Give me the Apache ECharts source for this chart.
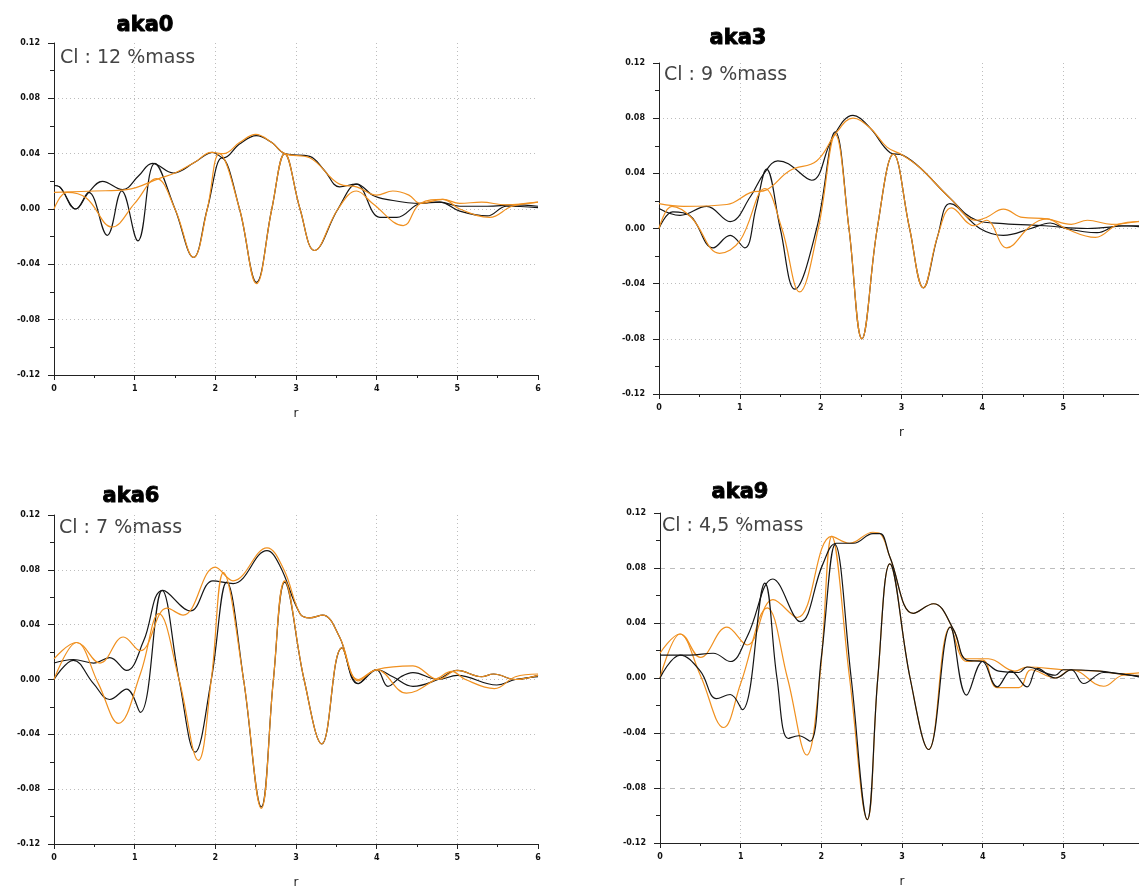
<!DOCTYPE html>
<html>
<head>
<meta charset="utf-8">
<script src="https://cdn.jsdelivr.net/npm/echarts@6/dist/echarts.min.js"></script>
<style>
html,body{margin:0;padding:0;background:#fff;overflow:hidden;}
#c{width:1139px;height:890px;}
</style>
</head>
<body>
<div id="c"></div>
<script>
// ---- panel labels ----
var panelTitles = ['aka0', 'aka3', 'aka6', 'aka9'];
var panelNotes = ['Cl : 12 %mass', 'Cl : 9 %mass', 'Cl : 7 %mass', 'Cl : 4,5 %mass'];
var xTicks = [0, 1, 2, 3, 4, 5, 6];
var yTicks = [-0.12, -0.08, -0.04, 0.00, 0.04, 0.08, 0.12];

// ---- aka0 ----
var a0_blackEnv = [[0,0.017],[0.07,0.016],[0.27,0.0],[0.43,0.012],[0.6,0.02],[0.85,0.014],[1.05,0.024],[1.22,0.033],[1.48,0.026],[1.75,0.034],[1.97,0.041],[2.1,0.037],[2.3,0.047],[2.51,0.053],[2.7,0.048],[2.86,0.04],[3.17,0.038],[3.35,0.028],[3.54,0.016],[3.75,0.018],[3.95,0.01],[4.12,0.007],[4.54,0.004],[4.78,0.005],[5.03,0.002],[5.37,0.002],[5.7,0.003],[6,0.002]];
var a0_blackOsc = [[0,0.017],[0.07,0.016],[0.27,0.0],[0.43,0.012],[0.66,-0.019],[0.84,0.013],[1.04,-0.023],[1.25,0.033],[1.5,0.0],[1.73,-0.035],[1.9,0.0],[2.08,0.037],[2.3,0.0],[2.51,-0.053],[2.7,0.0],[2.86,0.04],[3.05,0.0],[3.23,-0.03],[3.52,0.0],[3.75,0.018],[4.04,-0.006],[4.25,-0.006],[4.54,0.004],[4.78,0.005],[5.03,-0.0015],[5.37,-0.005],[5.61,0.002],[6,0.001]];
var a0_orangeEnv = [[0,0.012],[0.5,0.013],[0.9,0.014],[1.3,0.022],[1.5,0.026],[1.75,0.034],[1.95,0.041],[2.1,0.04],[2.3,0.048],[2.5,0.054],[2.7,0.048],[2.86,0.04],[3.17,0.037],[3.54,0.018],[3.75,0.016],[4.0,0.01],[4.2,0.013],[4.4,0.01],[4.54,0.004],[4.82,0.007],[5.03,0.004],[5.3,0.005],[5.6,0.003],[6,0.005]];
var a0_orangeOsc = [[0,0],[0.16,0.012],[0.4,0.008],[0.72,-0.013],[1.0,0.004],[1.27,0.022],[1.5,0.0],[1.73,-0.035],[1.9,0.0],[2.05,0.04],[2.3,0.0],[2.51,-0.054],[2.7,0.0],[2.86,0.04],[3.05,0.0],[3.23,-0.03],[3.52,0.0],[3.75,0.013],[3.95,0.004],[4.33,-0.012],[4.54,0.004],[4.82,0.007],[5.03,0.0],[5.4,-0.006],[5.68,0.002],[6,0.005]];

// ---- aka3 ----
var a3_blackEnv = [[0,0.0145],[0.26,0.0095],[0.59,0.016],[0.88,0.005],[1.13,0.023],[1.3,0.04],[1.47,0.049],[1.6,0.047],[1.89,0.035],[2.15,0.066],[2.4,0.082],[2.61,0.073],[2.86,0.055],[3.02,0.053],[3.23,0.044],[3.6,0.022],[3.93,0.006],[4.26,0.0036],[4.77,0.002],[5.3,0.0],[5.85,0.002],[6,0.002]];
var a3_blackOsc = [[0,0],[0.17,0.012],[0.38,0.0095],[0.67,-0.014],[0.88,-0.005],[1.06,-0.014],[1.2,0.015],[1.33,0.043],[1.5,0.0],[1.68,-0.044],[1.95,0.0],[2.18,0.070],[2.35,0.0],[2.51,-0.080],[2.7,0.0],[2.9,0.054],[3.1,0.0],[3.27,-0.043],[3.45,-0.005],[3.6,0.018],[3.97,0],[4.26,-0.005],[4.6,0],[4.84,0.004],[5.03,0],[5.42,-0.003],[5.68,0.002],[6,0.001]];
var a3_orangeEnv = [[0,0.018],[0.3,0.016],[0.84,0.0174],[1.13,0.026],[1.33,0.028],[1.62,0.042],[1.95,0.049],[2.2,0.07],[2.4,0.080],[2.61,0.073],[2.82,0.059],[3.02,0.053],[3.23,0.044],[3.6,0.022],[3.93,0.006],[4.05,0.008],[4.26,0.014],[4.5,0.008],[4.8,0.007],[5.1,0.003],[5.3,0.006],[5.6,0.003],[6,0.006]];
var a3_orangeOsc = [[0,0],[0.16,0.016],[0.4,0.008],[0.75,-0.018],[1.0,-0.009],[1.31,0.029],[1.52,0.0],[1.74,-0.046],[1.97,0.0],[2.18,0.068],[2.35,0.0],[2.51,-0.080],[2.7,0.0],[2.9,0.054],[3.1,0.0],[3.27,-0.043],[3.45,-0.005],[3.62,0.015],[3.9,0.002],[4.05,0.006],[4.3,-0.014],[4.6,0.002],[4.8,0.007],[5.03,0],[5.4,-0.0065],[5.68,0.003],[6,0.005]];

// ---- aka6 ----
var a6_blackEnv = [[0,0.012],[0.24,0.0146],[0.49,0.012],[0.69,0.016],[0.9,0.0066],[1.11,0.028],[1.35,0.065],[1.69,0.050],[1.97,0.072],[2.22,0.07],[2.64,0.094],[2.8,0.083],[3.05,0.048],[3.17,0.045],[3.33,0.047],[3.54,0.031],[3.77,-0.003],[4.0,0.0073],[4.2,0.002],[4.45,-0.005],[4.76,0.0],[5.0,0.0066],[5.3,0.002],[5.45,0.004],[5.72,0.0],[6,0.003]];
var a6_blackOsc = [[0,0],[0.24,0.014],[0.49,-0.003],[0.69,-0.0146],[0.9,-0.007],[1.07,-0.024],[1.34,0.065],[1.55,0.0],[1.75,-0.053],[1.95,0.0],[2.14,0.071],[2.35,0.0],[2.57,-0.093],[2.72,0.0],[2.86,0.071],[3.1,0.0],[3.32,-0.047],[3.57,0.023],[3.77,-0.003],[4.0,0.007],[4.14,-0.005],[4.3,0.002],[4.45,0.005],[4.76,0.0],[5.0,0.003],[5.49,-0.004],[5.72,0.0],[6,0.002]];
var a6_orangeEnv = [[0,0.015],[0.28,0.027],[0.57,0.012],[0.86,0.031],[1.07,0.021],[1.4,0.052],[1.6,0.047],[2.0,0.082],[2.22,0.072],[2.64,0.096],[2.85,0.08],[3.05,0.048],[3.17,0.045],[3.33,0.047],[3.54,0.031],[3.77,0.0],[4.0,0.0073],[4.45,0.010],[4.76,0.0],[5.0,0.0066],[5.3,0.002],[5.45,0.004],[5.72,0.0],[6,0.003]];
var a6_orangeOsc = [[0,0],[0.28,0.027],[0.55,-0.003],[0.8,-0.032],[1.07,0.004],[1.3,0.048],[1.55,0.0],[1.79,-0.059],[1.95,0.0],[2.1,0.078],[2.35,0.0],[2.57,-0.094],[2.72,0.0],[2.86,0.072],[3.1,0.0],[3.32,-0.047],[3.57,0.023],[3.77,-0.001],[4.0,0.007],[4.37,-0.010],[4.76,0.001],[4.93,0.006],[5.1,0.0],[5.46,-0.0066],[5.72,0.002],[6,0.004]];

// ---- aka9 ----
var a9_blackEnv = [[0,0.0167],[0.37,0.0167],[0.66,0.018],[0.87,0.012],[1.08,0.030],[1.4,0.072],[1.74,0.041],[2.02,0.083],[2.19,0.098],[2.4,0.098],[2.64,0.105],[2.73,0.105],[2.85,0.088],[3.14,0.047],[3.39,0.054],[3.64,0.035],[3.8,0.013],[4.0,0.012],[4.2,0.005],[4.45,0.004],[4.55,0.008],[4.9,0.002],[5.0,0.006],[5.45,0.005],[5.7,0.003],[6,0.001]];
var a9_blackOsc = [[0,0],[0.25,0.0167],[0.5,0.005],[0.7,-0.015],[0.87,-0.012],[1.02,-0.023],[1.3,0.069],[1.45,0.0],[1.59,-0.044],[1.72,-0.042],[1.86,-0.046],[2.0,0.015],[2.17,0.097],[2.37,0.0],[2.57,-0.103],[2.7,0.0],[2.85,0.083],[3.1,0.0],[3.33,-0.052],[3.6,0.037],[3.8,-0.0125],[4.0,0.012],[4.18,-0.0065],[4.35,0.005],[4.55,-0.0065],[4.68,0.007],[4.9,0.0],[5.1,0.006],[5.25,-0.004],[5.5,0.004],[6,0.0]];
var a9_orangeEnv = [[0,0.018],[0.25,0.032],[0.5,0.015],[0.83,0.037],[1.08,0.024],[1.4,0.057],[1.7,0.044],[2.13,0.103],[2.35,0.098],[2.64,0.106],[2.73,0.105],[2.85,0.088],[3.14,0.047],[3.39,0.054],[3.64,0.035],[3.8,0.014],[4.07,0.014],[4.4,0.005],[4.55,0.008],[5.0,0.006],[5.45,0.005],[5.7,0.003],[6,0.004]];
var a9_orangeOsc = [[0,0],[0.25,0.032],[0.5,0.002],[0.79,-0.036],[1.0,-0.004],[1.33,0.051],[1.58,0.0],[1.82,-0.056],[1.98,0.0],[2.13,0.103],[2.35,0.0],[2.57,-0.103],[2.7,0.0],[2.85,0.083],[3.1,0.0],[3.33,-0.052],[3.6,0.037],[3.8,0.012],[4.0,0.013],[4.18,-0.007],[4.45,-0.007],[4.6,0.006],[4.9,0.0],[5.1,0.006],[5.5,-0.006],[5.75,0.002],[6,0.002]];

var panelCurves = [
  {black: [a0_blackEnv, a0_blackOsc], orange: [a0_orangeEnv, a0_orangeOsc], blackOnTop: false},
  {black: [a3_blackEnv, a3_blackOsc], orange: [a3_orangeEnv, a3_orangeOsc], blackOnTop: false},
  {black: [a6_blackEnv, a6_blackOsc], orange: [a6_orangeEnv, a6_orangeOsc], blackOnTop: false},
  {black: [a9_blackEnv, a9_blackOsc], orange: [a9_orangeEnv, a9_orangeOsc], blackOnTop: true}
];

// ---- layout (px) ----
var grids = [
  {left: 54,  top: 43,  width: 484, height: 332},
  {left: 659, top: 63,  width: 485, height: 331},
  {left: 54,  top: 515, width: 484, height: 329},
  {left: 660, top: 513, width: 484, height: 330}
];
var titlePos = [[145, 26], [738, 39], [131, 497], [740, 493]];
var notePos = [[60, 58], [664, 75], [59, 528], [662, 526]];
var hDash = [[1, 3], [1, 3], [1, 3], [5, 5]];

var BLACK = '#151515';
var ORANGE = '#f0901f';

var xAxes = [], yAxes = [], series = [], graphics = [];
grids.forEach(function (g, i) {
  xAxes.push({
    type: 'value', gridIndex: i, min: xTicks[0], max: xTicks[xTicks.length - 1], interval: 1,
    name: 'r', nameLocation: 'middle', nameGap: 33,
    nameTextStyle: {fontFamily: 'DejaVu Sans', fontSize: 12, color: '#222'},
    axisLine: {show: true, onZero: false, lineStyle: {color: '#222', width: 1}},
    axisTick: {show: true, inside: false, length: 5, lineStyle: {color: '#222'}},
    minorTick: {show: true, splitNumber: 2, length: 3, lineStyle: {color: '#222'}},
    axisLabel: {fontFamily: 'DejaVu Sans', fontWeight: 'bold', fontSize: 8, color: '#111', margin: 10},
    splitLine: {show: true, showMaxLine: false, lineStyle: {color: '#bdbdbd', type: [1, 3], width: 1}}
  });
  yAxes.push({
    type: 'value', gridIndex: i, min: yTicks[0], max: yTicks[yTicks.length - 1], interval: 0.04,
    axisLine: {show: true, onZero: false, lineStyle: {color: '#222', width: 1}},
    axisTick: {show: true, inside: false, length: 6, lineStyle: {color: '#222'}},
    minorTick: {show: true, splitNumber: 2, length: 4, lineStyle: {color: '#222'}},
    axisLabel: {fontFamily: 'DejaVu Sans', fontWeight: 'bold', fontSize: 8, color: '#111', margin: 14,
      formatter: function (v) { if (Math.abs(v) < 1e-9) v = 0; return v.toFixed(2); }},
    splitLine: {show: true, showMaxLine: false, lineStyle: {color: '#bdbdbd', type: hDash[i], width: 1}}
  });
  var pc = panelCurves[i];
  var mk = function (d, col) {
    return {type: 'line', xAxisIndex: i, yAxisIndex: i, data: d, symbol: 'none', smooth: 0.4,
      lineStyle: {color: col, width: 1.2}, itemStyle: {color: col}, silent: true};
  };
  var blacks = pc.black.map(function (d) { return mk(d, BLACK); });
  var oranges = pc.orange.map(function (d) { return mk(d, ORANGE); });
  series = series.concat(pc.blackOnTop ? oranges.concat(blacks) : blacks.concat(oranges));

  graphics.push({type: 'text', x: titlePos[i][0], y: titlePos[i][1],
    style: {text: panelTitles[i], font: 'bold 21px "DejaVu Sans"', fill: '#000', stroke: '#000', lineWidth: 0.9,
      align: 'center', verticalAlign: 'middle', textAlign: 'center', textVerticalAlign: 'middle'}});
  graphics.push({type: 'text', x: notePos[i][0], y: notePos[i][1],
    style: {text: panelNotes[i], font: '19px "DejaVu Sans"', fill: '#444',
      align: 'left', verticalAlign: 'middle', textAlign: 'left', textVerticalAlign: 'middle'}});
});

var chart = echarts.init(document.getElementById('c'), null, {renderer: 'canvas'});
chart.setOption({
  animation: false,
  backgroundColor: '#fff',
  grid: grids.map(function (g) { return Object.assign({containLabel: false, outerBoundsMode: 'none'}, g); }),
  xAxis: xAxes,
  yAxis: yAxes,
  series: series,
  graphic: graphics
});
</script>
</body>
</html>
